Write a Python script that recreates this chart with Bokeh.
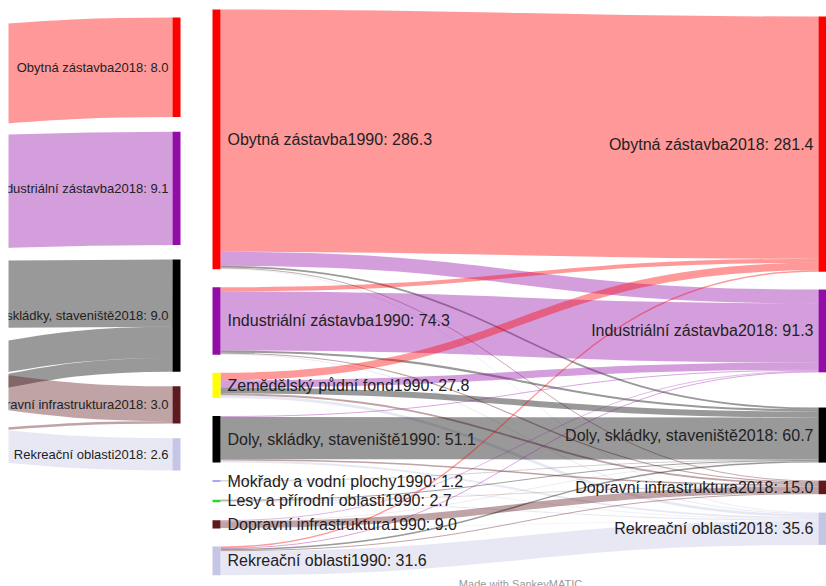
from bokeh.plotting import figure
from bokeh.models import ColumnDataSource, Range1d
from bokeh.embed import file_html
from bokeh.resources import INLINE
from bokeh.core.properties import value

# ---------------- data ----------------
sources_1990 = ["Obytná zástavba1990", "Industriální zástavba1990", "Zemědělský půdní fond1990",
                "Doly, skládky, staveniště1990", "Mokřady a vodní plochy1990",
                "Lesy a přírodní oblasti1990", "Dopravní infrastruktura1990", "Rekreační oblasti1990"]
values_1990 = [286.3, 74.3, 27.8, 51.1, 1.2, 2.7, 9.0, 31.6]

targets_2018 = ["Obytná zástavba2018", "Industriální zástavba2018", "Doly, skládky, staveniště2018",
                "Dopravní infrastruktura2018", "Rekreační oblasti2018"]
values_2018 = [281.4, 91.3, 60.7, 15.0, 35.6]

# flows from each 1990 category to the 2018 categories (same order as targets_2018)
from_obytna = [267.1, 15.4, 2.0, 1.0, 0.8]
from_industrialni = [4.5, 65.1, 2.4, 1.3, 1.0]
from_zemedelsky = [8.3, 8.0, 6.5, 2.0, 3.0]
from_doly = [0.0, 1.0, 46.5, 1.6, 2.0]
from_mokrady = [0.0, 0.0, 0.5, 0.0, 0.7]
from_lesy = [0.0, 0.0, 1.0, 0.5, 1.2]
from_dopravni = [0.0, 0.8, 0.2, 7.5, 0.5]
from_rekreacni = [1.5, 1.0, 1.6, 1.1, 26.4]

# partially visible diagram on the left edge
inset_targets = ["Obytná zástavba2018", "Industriální zástavba2018", "Doly, skládky, staveniště2018",
                 "Dopravní infrastruktura2018", "Rekreační oblasti2018"]
inset_values = [8.0, 9.1, 9.0, 3.0, 2.6]
inset_flow_target = [0, 1, 2, 2, 2, 3, 3, 4]
inset_flow_value = [8.0, 9.1, 5.4, 2.5, 1.1, 2.8, 0.2, 2.6]

footer_text = "Made with SankeyMATIC"

# ---------------- styles / layout ----------------
colors_1990 = ["#ff0000", "#940ca8", "#ffff00", "#000000", "#5050ff", "#22dd22", "#5e1a1f", "#c5c5e6"]
colors_2018 = ["#ff0000", "#940ca8", "#000000", "#5e1a1f", "#c5c5e6"]
FLOW_ALPHA = 0.4
TEXT_COLOR = "#222222"
FONT = "Liberation Sans"

W, H = 826, 586
CLIP_LEFT = 8
X0, X1 = CLIP_LEFT, W
Y0, Y1 = 0, H

K = 0.907          # px per unit, main diagram
NODE_W = 8
LEFT_X = 212
RIGHT_X = 818
left_top0, left_gap = 9, 18.1
right_top0, right_gaps = 16, [17.8, 35.2, 18.0, 18.4]

K2 = 12.45         # px per unit, inset diagram
INSET_X = 172
inset_top0, inset_gap = 17, 14.6
inset_src_x = 2 * CLIP_LEFT - INSET_X
inset_src_top = [29, 137, 261, 354, 389, 364, 433, 422]


def stack(top0, vals, k, gaps):
    tops, y = [], top0
    for i, v in enumerate(vals):
        tops.append(y)
        y += v * k + (gaps[i] if i < len(gaps) else 0)
    return tops


flow_matrix = [from_obytna, from_industrialni, from_zemedelsky, from_doly,
               from_mokrady, from_lesy, from_dopravni, from_rekreacni]

ltops = stack(left_top0, values_1990, K, [left_gap] * (len(values_1990) - 1))
rtops = stack(right_top0, values_2018, K, right_gaps)
itops = stack(inset_top0, inset_values, K2, [inset_gap] * (len(inset_values) - 1))

p = figure(width=W, height=H, output_backend="svg", toolbar_location=None,
           x_axis_type=None, y_axis_type=None,
           x_range=Range1d(X0, X1), y_range=Range1d(Y1, Y0),
           min_border=0, min_border_left=CLIP_LEFT)
p.grid.visible = False
p.outline_line_color = None
p.background_fill_color = "white"
p.border_fill_color = "white"

# ---------- flows ----------
fx0, fy0, fx1, fy1, fcx, flw, fcol = [], [], [], [], [], [], []

# inset flows
ioff = [0.0] * len(inset_values)
for n, (t, v) in enumerate(zip(inset_flow_target, inset_flow_value)):
    w = v * K2
    ys = inset_src_top[n] + w / 2
    yt = itops[t] + ioff[t] + w / 2
    ioff[t] += w
    xa, xb = inset_src_x, INSET_X
    fx0.append(xa); fx1.append(xb); fy0.append(ys); fy1.append(yt)
    fcx.append((xa + xb) / 2)
    flw.append(w); fcol.append(colors_2018[t])

# main flows
soff = [0.0] * len(values_1990)
toff = [0.0] * len(values_2018)
for i, row in enumerate(flow_matrix):
    for j, v in enumerate(row):
        if v <= 0:
            continue
        w = v * K
        ys = ltops[i] + soff[i] + w / 2
        yt = rtops[j] + toff[j] + w / 2
        soff[i] += w
        toff[j] += w
        xa, xb = LEFT_X + NODE_W, RIGHT_X
        fx0.append(xa); fx1.append(xb); fy0.append(ys); fy1.append(yt)
        fcx.append((xa + xb) / 2)
        flw.append(w); fcol.append(colors_2018[j])

fsrc = ColumnDataSource(dict(x0=fx0, y0=fy0, x1=fx1, y1=fy1, cx0=fcx, cy0=fy0,
                             cx1=fcx, cy1=fy1, lw=flw, color=fcol))
p.bezier(x0="x0", y0="y0", x1="x1", y1="y1", cx0="cx0", cy0="cy0", cx1="cx1", cy1="cy1",
         line_width="lw", line_color="color", line_alpha=FLOW_ALPHA, source=fsrc)

# ---------- nodes ----------
nl, nr, nt, nb, nc = [], [], [], [], []
for i, v in enumerate(values_1990):
    nl.append(LEFT_X); nr.append(LEFT_X + NODE_W); nt.append(ltops[i]); nb.append(ltops[i] + v * K)
    nc.append(colors_1990[i])
for j, v in enumerate(values_2018):
    nl.append(RIGHT_X); nr.append(RIGHT_X + NODE_W); nt.append(rtops[j]); nb.append(rtops[j] + v * K)
    nc.append(colors_2018[j])
for j, v in enumerate(inset_values):
    nl.append(INSET_X); nr.append(INSET_X + NODE_W); nt.append(itops[j]); nb.append(itops[j] + v * K2)
    nc.append(colors_2018[j])
p.quad(left=nl, right=nr, top=nt, bottom=nb, fill_color=nc, line_color=None)

# ---------- labels ----------
lx = [LEFT_X + NODE_W + 7] * len(values_1990)
ly = [ltops[i] + v * K / 2 for i, v in enumerate(values_1990)]
lt = [f"{n}: {v:.1f}" for n, v in zip(sources_1990, values_1990)]
p.text(x=lx, y=ly, text=lt, text_align="left", text_baseline="middle",
       text_font=value(FONT), text_font_size=value("16px"), text_color=TEXT_COLOR)

rx = [RIGHT_X - 5] * len(values_2018)
ry = [rtops[j] + v * K / 2 for j, v in enumerate(values_2018)]
rt = [f"{n}: {v:.1f}" for n, v in zip(targets_2018, values_2018)]
p.text(x=rx, y=ry, text=rt, text_align="right", text_baseline="middle",
       text_font=value(FONT), text_font_size=value("16px"), text_color=TEXT_COLOR)

ix = [INSET_X - 4] * len(inset_values)
iy = [itops[j] + v * K2 / 2 for j, v in enumerate(inset_values)]
it = [f"{n}: {v:.1f}" for n, v in zip(inset_targets, inset_values)]
p.text(x=ix, y=iy, text=it, text_align="right", text_baseline="middle",
       text_font=value(FONT), text_font_size=value("13px"), text_color=TEXT_COLOR)

p.text(x=[520], y=[583], text=[footer_text], text_align="center", text_baseline="middle",
       text_font=value(FONT), text_font_size=value("11px"), text_color="#9a9a9a")

open("out.html", "w").write(file_html(p, INLINE))
